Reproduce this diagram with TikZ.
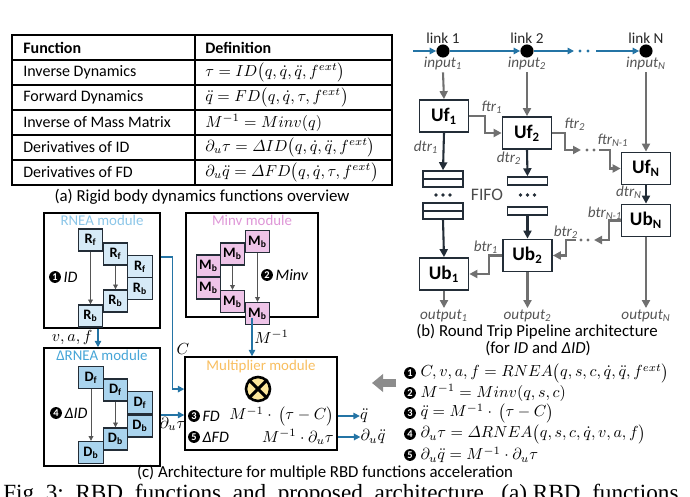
\documentclass[tikz,border=0pt]{standalone}
\usepackage{amsmath}
\usepackage[no-math]{fontspec}
\setmainfont{Carlito}
\newfontfamily\capfont{Liberation Serif}
\usetikzlibrary{arrows.meta,positioning,calc}
\definecolor{linkblue}{RGB}{36,116,165}
\definecolor{pipegray}{RGB}{112,112,112}
\definecolor{labgray}{RGB}{85,85,85}
\definecolor{boxline}{RGB}{35,45,55}
\definecolor{rneatitle}{RGB}{140,198,232}
\definecolor{rneafill}{RGB}{214,234,247}
\definecolor{drneatitle}{RGB}{70,165,215}
\definecolor{drneafill}{RGB}{170,212,238}
\definecolor{minvtitle}{RGB}{222,150,215}
\definecolor{minvfill}{RGB}{238,196,232}
\definecolor{multtitle}{RGB}{248,190,95}
\definecolor{multfill}{RGB}{252,230,155}
\tikzset{
  % table
  tabline/.style={line width=0.9pt},
  tabtxt/.style={anchor=west, inner sep=0pt, font=\fontsize{10}{12}\selectfont},
  subcap/.style={font=\fontsize{10.5}{12.5}\selectfont, inner sep=0pt, align=center},
  % pipeline units (Uf / Ub)
  unit/.style={draw=boxline, line width=1.1pt, minimum width=30.6pt, minimum height=20pt,
               inner sep=0pt, font=\fontsize{12}{14}\selectfont\bfseries},
  fcell/.style={draw=boxline, line width=0.9pt, minimum width=25pt, minimum height=5pt, inner sep=0pt},
  linkdot/.style={circle, fill=black, minimum size=8.2pt, inner sep=0pt},
  linklab/.style={font=\fontsize{9.5}{11}\selectfont, text=black!85, inner sep=0pt},
  plabel/.style={font=\fontsize{9.5}{11}\selectfont\itshape, text=labgray, inner sep=1pt},
  % blocks inside a module
  blk/.style={draw=boxline, line width=0.8pt, minimum width=15.3pt, minimum height=13.8pt,
              inner sep=0pt, font=\fontsize{9}{10}\selectfont\bfseries},
  rblk/.style={blk, fill=rneafill},
  mblk/.style={blk, fill=minvfill},
  dblk/.style={blk, fill=drneafill},
  % module enclosure
  modbox/.style={draw, line width=0.9pt, inner sep=0pt},
  modtitle/.style={font=\fontsize{9.3}{11}\selectfont, inner sep=0pt},
  numdot/.style={circle, fill=black, text=white, inner sep=0pt, minimum size=7.4pt,
                 font=\fontsize{6.5}{7}\selectfont\bfseries},
  numtxt/.style={font=\fontsize{10}{12}\selectfont\itshape, inner sep=1pt},
  eqtxt/.style={font=\fontsize{10}{12}\selectfont, inner sep=0pt},
  % arrows
  blarr/.style={-{Triangle[length=4pt,width=4pt]}, linkblue, line width=0.9pt},
  garr/.style={-{Triangle[length=5pt,width=5pt]}, pipegray, line width=1.3pt},
  darr/.style={-{Triangle[length=5pt,width=5pt]}, boxline, line width=1.3pt},
  thinarr/.style={-{Triangle[length=3pt,width=3pt]}, labgray, line width=0.6pt},
  fatarr/.style={-{Triangle[length=7pt,width=11pt]}, black!45, line width=4.5pt}
}

\begin{document}
\begin{tikzpicture}[x=0.625pt, y=-0.625pt]
\useasboundingbox (0,0) rectangle (690,497);

% ============== (a) function table ==============
\draw[tabline] (12,35) rectangle (392,185);
\draw[tabline] (195,35) -- (195,185);
\draw[tabline] (12,60) -- (392,60);
\draw[tabline] (12,85) -- (392,85);
\draw[tabline] (12,110) -- (392,110);
\draw[tabline] (12,135) -- (392,135);
\draw[tabline] (12,160) -- (392,160);

\node[tabtxt] (hfun) at (23,47.5) {\textbf{Function}};
\node[tabtxt] (hdef) at (205,47.5) {\textbf{Definition}};
\node[tabtxt] (fid) at (23,72.5) {Inverse Dynamics};
\node[tabtxt] (did) at (205,72.5) {$\tau = ID\bigl(q,\dot q,\ddot q,f^{ext}\bigr)$};
\node[tabtxt] (ffd) at (23,97.5) {Forward Dynamics};
\node[tabtxt] (dfd) at (205,97.5) {$\ddot q = FD\bigl(q,\dot q,\tau,f^{ext}\bigr)$};
\node[tabtxt] (fmi) at (23,122.5) {Inverse of Mass Matrix};
\node[tabtxt] (dmi) at (205,122.5) {$M^{-1} = Minv(q)$};
\node[tabtxt] (fdid) at (23,147.5) {Derivatives of ID};
\node[tabtxt] (ddid) at (205,147.5) {$\partial_u\tau = \varDelta ID\bigl(q,\dot q,\ddot q,f^{ext}\bigr)$};
\node[tabtxt] (fdfd) at (23,172.5) {Derivatives of FD};
\node[tabtxt] (ddfd) at (205,172.5) {$\partial_u\ddot q = \varDelta FD\bigl(q,\dot q,\tau,f^{ext}\bigr)$};

\node[subcap] (capa) at (202,197) {(a) Rigid body dynamics functions overview};

% ============== (b) round trip pipeline ==============
\node[linkdot] (link1) at (443,51) {};
\node[linkdot] (link2) at (527,51) {};
\node[linkdot] (linkN) at (646,51) {};
\node[linklab] at (443,38) {link 1};
\node[linklab] at (527,38) {link 2};
\node[linklab] at (646,38) {link N};
\coordinate (lstart) at (413,51);
\coordinate (lgap1) at (574,51);
\coordinate (lgap2) at (596,51);
\draw[blarr] (lstart) -- (link1);
\draw[blarr] (link1) -- (link2);
\draw[blarr] (link2) -- (lgap1);
\fill[linkblue] (580,51) circle (1.6) (588,51) circle (1.6);
\draw[blarr] (lgap2) -- (linkN);

\node[plabel] (in1) at (443,64) {input\textsubscript{1}};
\node[plabel] (in2) at (527,64) {input\textsubscript{2}};
\node[plabel] (inN) at (646,64) {input\textsubscript{N}};

\node[unit] (uf1) at (444,116) {Uf\textsubscript{1}};
\node[unit] (uf2) at (527,133) {Uf\textsubscript{2}};
\node[unit] (ufN) at (646,168.5) {Uf\textsubscript{N}};
\node[unit] (ubN) at (646,220.5) {Ub\textsubscript{N}};
\node[unit] (ub2) at (527.5,255.5) {Ub\textsubscript{2}};
\node[unit] (ub1) at (444,274) {Ub\textsubscript{1}};

\draw[garr] (in1.south) -- (uf1.north);
\draw[garr] (in2.south) -- (uf2.north);
\draw[garr] (inN.south) -- (ufN.north);

% forward transfers
\draw[garr] (uf1.east) -- ++(16,0) |- (uf2.west);
\node[plabel] at (492,107) {ftr\textsubscript{1}};
\coordinate (f2end) at (581,150);
\coordinate (fNstart) at (599,150);
\draw[garr] (uf2.east) -- ++(13,0) |- (f2end);
\fill[pipegray] (587,150) circle (1.6) (594,150) circle (1.6);
\draw[garr] (fNstart) -- ++(11,0) |- (ufN.west);
\node[plabel] at (575,124) {ftr\textsubscript{2}};
\node[plabel] at (613,140) {ftr\textsubscript{N-1}};

% FIFOs
\node[fcell] (fa1) at (443,175) {};
\node[fcell] (fa2) at (443,183) {};
\node[fcell] (fa3) at (443,207) {};
\node[fcell] (fa4) at (443,215) {};
\fill[boxline] (436,195) circle (1.8) (443,195) circle (1.8) (450,195) circle (1.8);
\node[fcell] (fb1) at (527.5,181) {};
\node[fcell] (fb2) at (527.5,211) {};
\fill[boxline] (520.5,195) circle (1.8) (527.5,195) circle (1.8) (534.5,195) circle (1.8);
\node[font=\fontsize{11}{13}\selectfont, text=black!70, inner sep=0pt] (fifo) at (487,195) {FIFO};

\draw[darr] (uf1.south) -- (fa1.north);
\draw[darr] (fa4.south) -- (ub1.north);
\draw[darr] (uf2.south) -- (fb1.north);
\draw[darr] (fb2.south) -- (ub2.north);
\draw[darr] (ufN.south) -- (ubN.north);
\node[plabel] at (426,147) {dtr\textsubscript{1}};
\node[plabel] at (509,158) {dtr\textsubscript{2}};
\node[plabel] at (629,192) {dtr\textsubscript{N}};

% backward transfers
\coordinate (bNend) at (594,240);
\coordinate (b2start) at (576,240);
\draw[garr] (ubN.west) -- ++(-12,0) |- (bNend);
\fill[pipegray] (588,240) circle (1.6) (581,240) circle (1.6);
\draw[garr] (b2start) -- ++(-10,0) |- (ub2.east);
\draw[garr] (ub2.west) -- ++(-13,0) |- (ub1.east);
\node[plabel] at (605,213) {btr\textsubscript{N-1}};
\node[plabel] at (566,232) {btr\textsubscript{2}};
\node[plabel] at (486,247) {btr\textsubscript{1}};

\node[plabel] (out1) at (444,316) {output\textsubscript{1}};
\node[plabel] (out2) at (527.5,316) {output\textsubscript{2}};
\node[plabel] (outN) at (646,316) {output\textsubscript{N}};
\draw[garr] (ub1.south) -- (out1.north);
\draw[garr] (ub2.south) -- (out2.north);
\draw[garr] (ubN.south) -- (outN.north);

\node[subcap] (capb) at (537,332) {(b) Round Trip Pipeline architecture};
\node[subcap] (capb2) at (538,349) {(for \textit{ID} and \textit{ΔID})};

% ============== (c) multi-function architecture ==============
\node[modbox, minimum width=72.5pt, minimum height=71.9pt] (rnea) at (102,270.5) {};
\node[modbox, minimum width=82.5pt, minimum height=65pt] (minv) at (252,265) {};
\node[modbox, minimum width=72.5pt, minimum height=73.8pt] (drnea) at (102,407) {};
\node[modbox, minimum width=95pt, minimum height=58.1pt] (mult) at (261,403.5) {};

\node[modtitle, text=rneatitle, below=1.8pt of rnea.north] {RNEA module};
\node[modtitle, text=minvtitle, below=1.8pt of minv.north] {Minv module};
\node[modtitle, text=drneatitle, below=1.8pt of drnea.north] {ΔRNEA module};
\node[modtitle, text=multtitle, below=2pt of mult.north] {Multiplier module};

% RNEA blocks
\node[rblk] (rf1) at (90.5,240) {R\textsubscript{f}};
\node[rblk] (rf2) at (115.5,254) {R\textsubscript{f}};
\node[rblk] (rf3) at (140,266.5) {R\textsubscript{f}};
\node[rblk] (rb3) at (140,288.5) {R\textsubscript{b}};
\node[rblk] (rb2) at (115.5,301) {R\textsubscript{b}};
\node[rblk] (rb1) at (90.5,316) {R\textsubscript{b}};
\draw[thinarr] (rf1) -- (rb1);
\draw[thinarr] (rf2) -- (rb2);
\node[numdot] (n1) at (55,277) {1};
\node[numtxt, right=0.3pt of n1] {ID};

% Minv blocks
\node[mblk] (ma1) at (208.5,266) {M\textsubscript{b}};
\node[mblk] (mb1) at (208.5,288) {M\textsubscript{b}};
\node[mblk] (ma2) at (232.5,254) {M\textsubscript{b}};
\node[mblk] (mb2) at (232.5,301.5) {M\textsubscript{b}};
\node[mblk] (ma3) at (257.5,241.5) {M\textsubscript{b}};
\node[mblk] (mb3) at (257.5,313.5) {M\textsubscript{b}};
\draw[thinarr] (ma2) -- (mb2);
\draw[thinarr] (ma3) -- (mb3);
\node[numdot] (n2) at (267,275) {2};
\node[numtxt, right=0.3pt of n2] {Minv};

% dRNEA blocks
\node[dblk] (df1) at (91,377.5) {D\textsubscript{f}};
\node[dblk] (df2) at (115.5,390) {D\textsubscript{f}};
\node[dblk] (df3) at (140,402.5) {D\textsubscript{f}};
\node[dblk] (db3) at (140,426) {D\textsubscript{b}};
\node[dblk] (db2) at (115.5,439) {D\textsubscript{b}};
\node[dblk] (db1) at (91,452.5) {D\textsubscript{b}};
\draw[thinarr] (df1) -- (db1);
\draw[thinarr] (df2) -- (db2);
\node[numdot] (n4) at (56,413) {4};
\node[numtxt, right=0.3pt of n4] {ΔID};

% multiplier
\node[circle, draw, line width=1.6pt, fill=multfill, minimum size=15pt, inner sep=0pt] (mulop) at (258,389) {};
\draw[line width=1.8pt] (mulop.north west) -- (mulop.south east);
\draw[line width=1.8pt] (mulop.north east) -- (mulop.south west);
\node[numdot] (n3) at (194,416) {3};
\node[numtxt, right=0.3pt of n3] {FD};
\node[eqtxt, anchor=east] (mfd) at (334,416) {$M^{-1}\cdot\,\bigl(\tau - C\bigr)$};
\node[numdot] (n5) at (194,437) {5};
\node[numtxt, right=0.3pt of n5] {ΔFD};
\node[eqtxt, anchor=east] (mdfd) at (334,437) {$M^{-1}\cdot\partial_u\tau$};

% module connections
\draw[blarr] ([xshift=-2.5pt]rnea.south) -- node[left, eqtxt, text=black, xshift=-3pt] {$v,a,f$} ([xshift=-2.5pt]drnea.north);
\draw[blarr] ([yshift=8.5pt]rnea.east) -- ++(12,0) |- node[pos=0.35, right, eqtxt, text=black, xshift=2pt] {$C$} ([yshift=9pt]mult.west);
\draw[blarr] ([yshift=-5pt]drnea.east) -- node[below, eqtxt, text=black, yshift=-1pt] {$\partial_u\tau$} ([yshift=-5pt]drnea.east -| mult.west);
\draw[blarr] (minv.south) -- node[right, eqtxt, text=black, xshift=1pt] {$M^{-1}$} (minv.south |- mult.north);

\node[eqtxt] (qdd) at (364,416) {$\ddot q$};
\node[eqtxt] (dqdd) at (373,437) {$\partial_u\ddot q$};
\draw[blarr] (qdd -| mult.east) -- (qdd.west);
\draw[blarr] (dqdd -| mult.east) -- (dqdd.west);

% equation list
\coordinate (fatS) at (396,383);
\coordinate (fatE) at (372,383);
\draw[fatarr] (fatS) -- (fatE);
\node[numdot] (e1) at (410,373) {1};
\node[numdot] (e2) at (410,393) {2};
\node[numdot] (e3) at (410,413) {3};
\node[numdot] (e4) at (410,434) {4};
\node[numdot] (e5) at (410,455) {5};
\node[eqtxt, right=2.5pt of e1] {$C,v,a,f = RNEA\bigl(q,s,c,\dot q,\ddot q,f^{ext}\bigr)$};
\node[eqtxt, right=2.5pt of e2] {$M^{-1} = Minv(q,s,c)$};
\node[eqtxt, right=2.5pt of e3] {$\ddot q = M^{-1}\cdot\,\bigl(\tau - C\bigr)$};
\node[eqtxt, right=2.5pt of e4] {$\partial_u\tau = \varDelta RNEA\bigl(q,s,c,\dot q,v,a,f\bigr)$};
\node[eqtxt, right=2.5pt of e5] {$\partial_u\ddot q = M^{-1}\cdot\partial_u\tau$};

\node[subcap] (capc) at (325,473) {(c) Architecture for multiple RBD functions acceleration};

% figure caption, cut by the page edge
\node[anchor=base west, inner sep=0pt, font=\capfont\fontsize{14.5}{17}\selectfont] (figcap) at (3,501)
  {Fig.~3:\ \ RBD\ \ functions\ \ and\ \ proposed\ \ architecture.\ \ (a) RBD\ \ functions\ \ overview};
\end{tikzpicture}
\end{document}
